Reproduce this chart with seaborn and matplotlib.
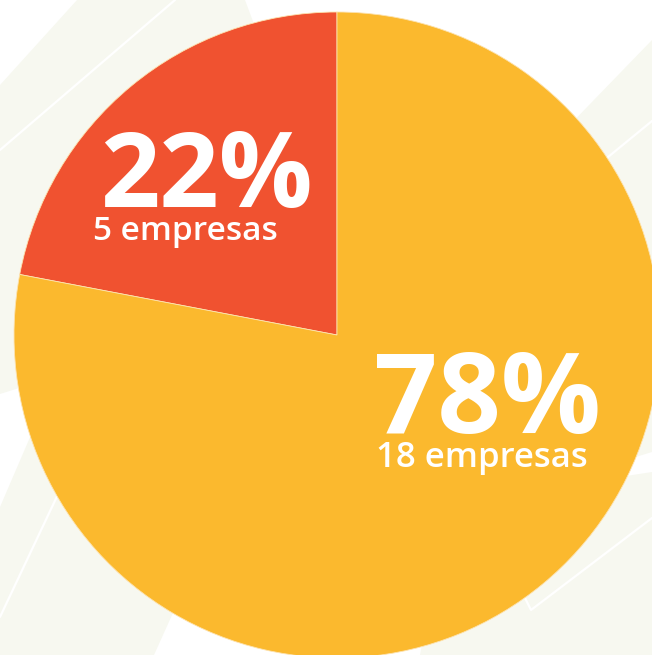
import matplotlib
matplotlib.use("Agg")
import matplotlib.pyplot as plt
from matplotlib.patches import Polygon
from matplotlib.lines import Line2D
import seaborn as sns

# ---- data ----
categories = ["Grupo A", "Grupo B"]
percentages = [22, 78]
companies = [5, 18]
colors = ["#F05230", "#FBB92E"]

sns.set_theme(style="white")
plt.rcParams["font.family"] = ["Open Sans", "DejaVu Sans"]

W, H = 652, 655
fig = plt.figure(figsize=(W / 100, H / 100), dpi=100)
fig.patch.set_facecolor("white")

def fp(pts):
    return [(x / W, 1 - y / H) for x, y in pts]

BG = "#F7F8F0"
shapes = [
    [(77, 0), (245, 0), (320, 200), (300, 300), (0, 394), (0, 85)],
    [(0, 507), (89, 300), (269, 400), (154, 655), (0, 655)],
    [(652, 40), (560, 135), (450, 300), (600, 468), (652, 452)],
    [(652, 472), (600, 480), (430, 600), (420, 655), (652, 655)],
]
for s in shapes:
    fig.patches.append(Polygon(fp(s), closed=True, facecolor=BG, edgecolor="none",
                               transform=fig.transFigure, zorder=-10))

lines = [
    [(175, 0), (0, 150)],
    [(0, 617), (60, 490)],
    [(652, 121), (580, 180)],
    [(652, 518), (531, 610), (524, 596)],
]
for ln in lines:
    pts = fp(ln)
    fig.lines.append(Line2D([p[0] for p in pts], [p[1] for p in pts], color="white",
                            lw=1.6, transform=fig.transFigure, zorder=-9))

cx, cy, r = 337, 335, 323
ax = fig.add_axes([(cx - r) / W, (H - cy - r) / H, 2 * r / W, 2 * r / H])
ax.set_zorder(1)
ax.patch.set_alpha(0)
ax.pie(percentages, colors=colors, startangle=90, counterclock=True, radius=1.0,
       wedgeprops=dict(linewidth=0.6, edgecolor="#FDE3B0"))
ax.set_xlim(-1, 1)
ax.set_ylim(-1, 1)
ax.set_aspect("equal")
ax.axis("off")

# labels
fig.text(100 / W, 1 - 207 / H, f"{percentages[0]}%", color="white", fontsize=75,
         fontweight="bold", ha="left", va="baseline", zorder=5)
fig.text(93 / W, 1 - 240 / H, f"{companies[0]} empresas", color="white", fontsize=24,
         fontweight="semibold", ha="left", va="baseline", zorder=5)
fig.text(374 / W, 1 - 433 / H, f"{percentages[1]}%", color="white", fontsize=80,
         fontweight="bold", ha="left", va="baseline", zorder=5)
fig.text(376 / W, 1 - 467 / H, f"{companies[1]} empresas", color="white", fontsize=25,
         fontweight="semibold", ha="left", va="baseline", zorder=5)

fig.savefig("out.png", dpi=100)
